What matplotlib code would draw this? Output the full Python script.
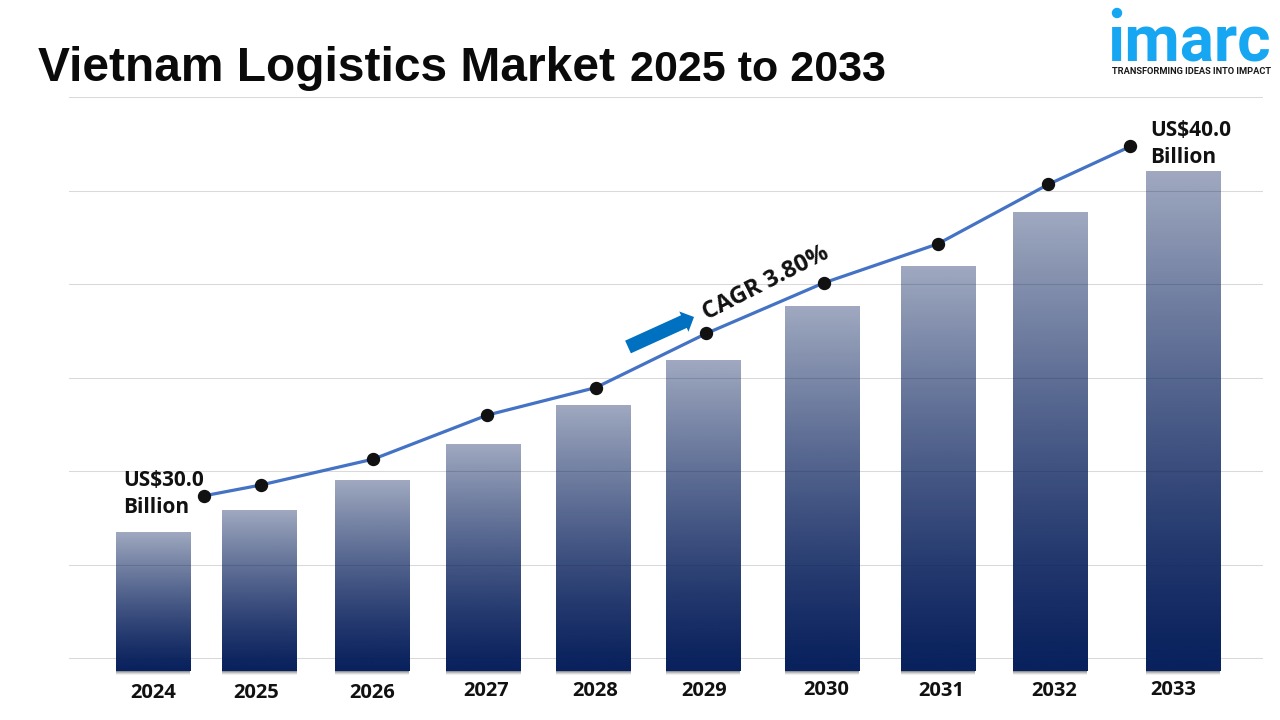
import numpy as np
import matplotlib
matplotlib.use("Agg")
import matplotlib.pyplot as plt
from matplotlib.patches import Circle

# values, billions
years = ["2024", "2025", "2026", "2027", "2028", "2029", "2030", "2031", "2032", "2033"]
bar_values = [30.0, 30.6, 31.43, 32.43, 33.5, 34.75, 36.25, 37.35, 38.85, 40.0]
line_values = [31.0, 31.3, 32.02, 33.24, 34.0, 35.5, 36.9, 37.98, 39.63, 40.68]

# the slide is hand placed, so each thing sits a bit off its slot
bar_nudge = [-0.005, -0.075, -0.085, -0.11, -0.145, -0.185, -0.14, -0.125, -0.14, 0.025]
line_nudge = [0.435, -0.065, -0.075, -0.075, -0.125, -0.155, -0.125, -0.125, -0.155, -0.435]
label_nudge = [-0.01, -0.10, -0.09, -0.09, -0.13, -0.17, -0.10, -0.09, -0.10, -0.06]
label_drop = [22, 22, 22, 20, 20, 20, 19, 20, 20, 19]

W, H = 1280, 720
SLOT = 114.0
PX_PER_UNIT = 36.1


def slot_x(px):
    return (px - 154) / SLOT


def val_y(py):
    return 30 + (532 - py) / PX_PER_UNIT


fig = plt.figure(figsize=(12.8, 7.2), dpi=100, facecolor="white")
left, right, top, bottom = 69, 1263, 97, 671
ax = fig.add_axes([left / W, 1 - bottom / H, (right - left) / W, (bottom - top) / H])
ax.set_facecolor("none")

x = np.arange(len(years))
bar_x = x + np.array(bar_nudge)
line_x = x + np.array(line_nudge)

# grid
ax.set_yticks([val_y(p) for p in (97, 190.5, 284, 377.5, 471, 564.5, 658)])
ax.grid(axis="y", color="#d9d9d9", lw=0.75)
ax.set_axisbelow(True)
ax.tick_params(left=False, bottom=False, labelleft=False, labelbottom=False)
for s in ax.spines.values():
    s.set_visible(False)

base = val_y(bottom)
heights = np.array(bar_values) - base

# soft shadow, only the strip under each bar
for off, a in [(4, 0.06), (3, 0.10), (2, 0.14), (1, 0.2)]:
    ax.bar(bar_x, off / PX_PER_UNIT, 0.65, bottom=base - off / PX_PER_UNIT,
           color="black", alpha=a, lw=0, zorder=2, clip_on=False)

rects = ax.bar(bar_x, heights, 0.65, bottom=base, color="none", lw=0, zorder=3)

# navy going see-through towards the top, so the grid shows behind
grad = np.zeros((256, 1, 4))
grad[..., 0] = 8 / 255
grad[..., 1] = 32 / 255
grad[..., 2] = 92 / 255
grad[..., 3] = (1 - 0.61 * np.linspace(1, 0, 256) ** 1.25)[:, None]
for r in rects:
    ax.imshow(grad, aspect="auto", origin="upper", zorder=3,
              extent=(r.get_x(), r.get_x() + r.get_width(), r.get_y(), r.get_y() + r.get_height()))

ax.plot(line_x, line_values, color="#4472C4", lw=2.3, marker="o", ms=8.6,
        mfc="#111111", mec="#111111", zorder=5, clip_on=False)

ax.set_xlim(slot_x(left), slot_x(right))
ax.set_ylim(base, val_y(top))

label_font = ["Open Sans", "DejaVu Sans"]

for i, yr in enumerate(years):
    ax.annotate(yr, (x[i] + label_nudge[i], 0), xycoords=ax.get_xaxis_transform(),
                xytext=(0, -label_drop[i] * 0.72), textcoords="offset points",
                ha="center", va="center", fontsize=14.5, fontweight="bold",
                family=label_font, color="#111111")

fig.text(123 / W, 1 - 494 / H, "US$30.0\nBillion", fontsize=15, fontweight="bold",
         family=label_font, color="#111111", ha="left", va="center", linespacing=1.4)
fig.text(1150 / W, 1 - 144 / H, "US$40.0\nBillion", fontsize=15, fontweight="bold",
         family=label_font, color="#111111", ha="left", va="center", linespacing=1.4)

fig.text(766 / W, 1 - 283 / H, "CAGR 3.80%", fontsize=17, fontweight="bold",
         family=label_font, color="#111111", ha="center", va="center", rotation=27,
         rotation_mode="anchor")

ax.annotate("", xy=(694, H - 317), xytext=(628, H - 347),
            xycoords="figure pixels", textcoords="figure pixels",
            arrowprops=dict(arrowstyle="simple,tail_width=10,head_width=16,head_length=8",
                            color="#0070C0", lw=0, mutation_scale=1, shrinkA=0, shrinkB=0))

# title
fig.text(38 / W, 1 - 81 / H, "Vietnam Logistics Market", fontsize=34.5, fontweight="bold",
         family="Liberation Sans", color="#0a0a0a", ha="left", va="baseline")
fig.text(886 / W, 1 - 81 / H, "2025 to 2033", fontsize=31, fontweight="bold",
         family="Liberation Sans", color="#0a0a0a", ha="right", va="baseline")

# logo
fig.text(1108 / W, 1 - 62 / H, "\u0131marc", fontsize=46, fontweight="bold",
         family=["Roboto", "DejaVu Sans"], color="#16A6F2", ha="left", va="baseline")
fig.add_artist(Circle((1117 / W * 12.8, (H - 13) / H * 7.2), 0.045, color="#16A6F2",
                      transform=fig.dpi_scale_trans))
fig.text(1191.5 / W, 1 - 71 / H, "TRANSFORMING IDEAS INTO IMPACT", fontsize=6.7, fontweight="bold",
         family=["Roboto", "DejaVu Sans"], color="#1a1a1a", ha="center", va="center")

fig.savefig("out.png", dpi=100)
